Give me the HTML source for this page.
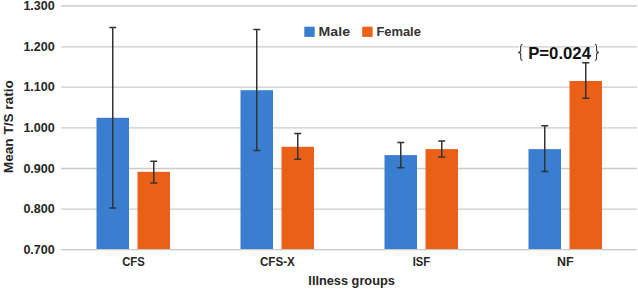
<!DOCTYPE html>
<html>
<head>
<meta charset="utf-8">
<style>
html,body{margin:0;padding:0;background:#fff;}
body{width:638px;height:289px;overflow:hidden;}
svg{display:block;}
text{font-family:"Liberation Sans",sans-serif;font-weight:bold;}
</style>
</head>
<body>
<svg width="638" height="289" viewBox="0 0 638 289">
  <rect width="638" height="289" fill="#fff"/>
  <!-- gridlines -->
  <g stroke="#cbcbcb" stroke-width="1.3" fill="none">
    <line x1="61" x2="637" y1="6" y2="6"/>
    <line x1="61" x2="637" y1="46.8" y2="46.8"/>
    <line x1="61" x2="637" y1="87.2" y2="87.2"/>
    <line x1="61" x2="637" y1="127.9" y2="127.9"/>
    <line x1="61" x2="637" y1="168.5" y2="168.5"/>
    <line x1="61" x2="637" y1="209.1" y2="209.1"/>
  </g>
  <!-- bars -->
  <g fill="#3a7fcf">
    <rect x="96.5" y="117.8" width="32.5" height="131.6"/>
    <rect x="240.5" y="90.2" width="32.5" height="159.2"/>
    <rect x="384.5" y="155.1" width="32.5" height="94.3"/>
    <rect x="528.5" y="149.1" width="32.5" height="100.3"/>
  </g>
  <g fill="#e96016">
    <rect x="137.5" y="171.8" width="32.5" height="77.6"/>
    <rect x="281.5" y="146.8" width="32.5" height="102.6"/>
    <rect x="425.5" y="149.1" width="32.5" height="100.3"/>
    <rect x="569.5" y="81" width="32.5" height="168.4"/>
  </g>
  <!-- axis line -->
  <line x1="61" x2="637" y1="249.7" y2="249.7" stroke="#c8c8c8" stroke-width="1.3"/>
  <!-- error bars -->
  <g stroke="#333" stroke-width="1.5" fill="none">
    <path d="M112.75 27.4V208 M109.25 27.4h7 M109.25 208h7"/>
    <path d="M153.75 161.3V182.9 M150.25 161.3h7 M150.25 182.9h7"/>
    <path d="M256.75 29.4V150.6 M253.25 29.4h7 M253.25 150.6h7"/>
    <path d="M297.75 133.6V159.3 M294.25 133.6h7 M294.25 159.3h7"/>
    <path d="M400.75 142.6V167.8 M397.25 142.6h7 M397.25 167.8h7"/>
    <path d="M441.75 140.9V157.1 M438.25 140.9h7 M438.25 157.1h7"/>
    <path d="M544.75 125.8V171.4 M541.25 125.8h7 M541.25 171.4h7"/>
    <path d="M585.75 62.8V98.3 M582.25 62.8h7 M582.25 98.3h7"/>
  </g>
  <!-- y axis labels -->
  <g fill="#262626" font-size="13" text-anchor="end">
    <text x="54.8" y="10.2" textLength="31.4" lengthAdjust="spacingAndGlyphs">1.300</text>
    <text x="54.8" y="51" textLength="31.4" lengthAdjust="spacingAndGlyphs">1.200</text>
    <text x="54.8" y="91.4" textLength="31.4" lengthAdjust="spacingAndGlyphs">1.100</text>
    <text x="54.8" y="132.1" textLength="31.4" lengthAdjust="spacingAndGlyphs">1.000</text>
    <text x="54.8" y="172.7" textLength="31.4" lengthAdjust="spacingAndGlyphs">0.900</text>
    <text x="54.8" y="213.3" textLength="31.4" lengthAdjust="spacingAndGlyphs">0.800</text>
    <text x="54.8" y="253.9" textLength="31.4" lengthAdjust="spacingAndGlyphs">0.700</text>
  </g>
  <!-- x axis labels -->
  <g fill="#262626" font-size="13.6" text-anchor="middle">
    <text x="133.5" y="265.7" textLength="22.6" lengthAdjust="spacingAndGlyphs">CFS</text>
    <text x="277.4" y="265.7" textLength="35" lengthAdjust="spacingAndGlyphs">CFS-X</text>
    <text x="421.5" y="265.7" textLength="17.5" lengthAdjust="spacingAndGlyphs">ISF</text>
    <text x="565.2" y="265.7" textLength="16.5" lengthAdjust="spacingAndGlyphs">NF</text>
  </g>
  <text x="351.6" y="284.9" fill="#262626" font-size="13" text-anchor="middle" textLength="86.5" lengthAdjust="spacingAndGlyphs">Illness groups</text>
  <text transform="translate(13.3 126.7) rotate(-90)" fill="#262626" font-size="13" text-anchor="middle" textLength="92.9" lengthAdjust="spacingAndGlyphs">Mean T/S ratio</text>
  <!-- legend -->
  <rect x="304.3" y="26.7" width="10.4" height="10.2" fill="#3a7fcf"/>
  <text x="318.6" y="35.8" fill="#333" font-size="12.7" textLength="31.4" lengthAdjust="spacingAndGlyphs">Male</text>
  <rect x="362.2" y="26.7" width="10.4" height="10.2" fill="#e96016"/>
  <text x="376.4" y="35.8" fill="#333" font-size="12.7" textLength="44.5" lengthAdjust="spacingAndGlyphs">Female</text>
  <!-- P value -->
  <text x="528.2" y="59.2" fill="#111" font-size="15.9" textLength="62.8" lengthAdjust="spacingAndGlyphs">P=0.024</text>
  <g stroke="#fff" stroke-width="3.5" fill="none">
    <path d="M520.7 45.5V48.5"/>
    <path d="M596.6 45.5V48.5"/>
  </g>
  <g stroke="#333" stroke-width="1.1" fill="none">
    <path d="M522.4 44.3 C520.8 44.6 520.7 45.5 520.7 47 V50.5 C520.7 51.7 520 52.3 518.2 52.4 C520 52.5 520.7 53.1 520.7 54.3 V58 C520.7 59.5 520.8 60.4 522.4 60.7"/>
    <path d="M594.9 44.3 C596.5 44.6 596.6 45.5 596.6 47 V50.5 C596.6 51.7 597.3 52.3 598.9 52.4 C597.3 52.5 596.6 53.1 596.6 54.3 V58 C596.6 59.5 596.5 60.4 594.9 60.7"/>
  </g>
</svg>
</body>
</html>
